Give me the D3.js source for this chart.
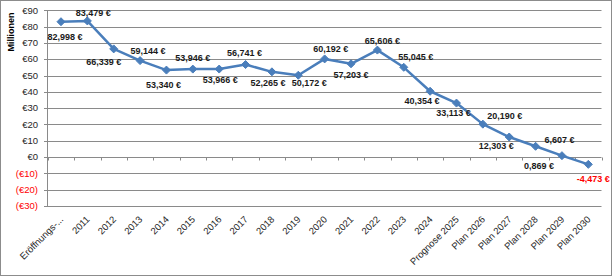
<!DOCTYPE html>
<html><head><meta charset="utf-8">
<script src="https://cdn.jsdelivr.net/npm/d3@7"></script>
<style>body{margin:0;background:#fff}svg{display:block}text{font-family:"Liberation Sans",Arial,sans-serif}</style>
</head><body>
<svg id="c" width="613" height="277"></svg>
<script>
const categories = ["Eröffnungs-...","2011","2012","2013","2014","2015","2016","2017","2018","2019","2020","2021","2022","2023","2024","Prognose 2025","Plan 2026","Plan 2027","Plan 2028","Plan 2029","Plan 2030"];
const values = [82.998,83.479,66.339,59.144,53.340,53.946,53.966,56.741,52.265,50.172,60.192,57.203,65.606,55.045,40.354,33.113,20.190,12.303,6.607,0.869,-4.473];
const yTicks = [-30,-20,-10,0,10,20,30,40,50,60,70,80,90];
const yTitle = "Millionen";
// label placement offsets relative to each point (layout, not data)
const labelOffsets = [[4,15],[6,-8],[-10,13],[8,-10],[-3,15],[0,-11],[1,11],[-1,-12],[-4,11],[11,7],[6,-10],[0,11],[5,-9],[12,-11],[-8,9],[-3,10],[22,-8],[-13,9],[24,-7],[-23,10],[5,14]];

const svg = d3.select("#c");
const fmtNum = v => {
  const s = Math.abs(v).toFixed(3).replace(".", ",");
  return (v < 0 ? "-" : "") + s + " €";
};
const fmtTick = v => v < 0 ? "(€" + Math.abs(v) + ")" : "€" + v;

const x = d3.scaleBand().domain(categories).range([47.8, 601.5]);
const y = d3.scaleLinear().domain([-30, 90]).range([206, 10.3]);

// outer border
svg.append("rect").attr("x",0.5).attr("y",0.5).attr("width",611).attr("height",275)
  .attr("fill","#fff").attr("stroke","#8c8c8c").attr("stroke-width",1);

// gridlines
svg.append("g").selectAll("line").data(yTicks).join("line")
  .attr("x1", 44).attr("x2", 601.5)
  .attr("y1", d => Math.round(y(d))+0.5).attr("y2", d => Math.round(y(d))+0.5)
  .attr("stroke","#8a8a8a").attr("stroke-width",1);

// y axis line
svg.append("line").attr("x1",47.5).attr("x2",47.5).attr("y1",Math.round(y(90))+0.5).attr("y2",Math.round(y(-30))+0.5)
  .attr("stroke","#8a8a8a");

// category axis ticks at zero
const zy = Math.round(y(0))+0.5;
const bounds = categories.map(c => x(c)).concat([x.range()[1]]);
svg.append("g").selectAll("line").data(bounds).join("line")
  .attr("x1", d => Math.round(d)+0.5).attr("x2", d => Math.round(d)+0.5)
  .attr("y1", zy).attr("y2", zy+3).attr("stroke","#8a8a8a");

// y tick labels
svg.append("g").selectAll("text").data(yTicks).join("text")
  .attr("x", 38).attr("y", d => y(d)+3.2).attr("text-anchor","end")
  .attr("font-size","9.5px").attr("fill", d => d < 0 ? "#ff0000" : "#262626")
  .text(fmtTick);

// y title
svg.append("text").attr("transform","translate(14,32) rotate(-90)")
  .attr("text-anchor","middle").attr("font-size","9px").attr("font-weight","bold").attr("fill","#000")
  .text(yTitle);

// x labels
svg.append("g").selectAll("text").data(categories).join("text")
  .attr("transform", d => `translate(${x(d)+x.bandwidth()/2+3},${220}) rotate(-45)`)
  .attr("text-anchor","end").attr("font-size","9.5px").attr("fill","#262626")
  .text(d => d);

// line
const cx = d => x(d) + x.bandwidth()/2;
svg.append("path").datum(values)
  .attr("d", d3.line().x((d,i) => cx(categories[i])).y(d => y(d)))
  .attr("fill","none").attr("stroke","#4a7ebb").attr("stroke-width",2.5).attr("stroke-linejoin","round");

// markers
svg.append("g").selectAll("path").data(values).join("path")
  .attr("transform",(d,i) => `translate(${cx(categories[i])},${y(d)})`)
  .attr("d","M0,-4L4,0L0,4L-4,0Z").attr("fill","#4a7ebb").attr("stroke","#4a7ebb");

// data labels
svg.append("g").selectAll("text").data(values).join("text")
  .attr("x",(d,i) => cx(categories[i]) + labelOffsets[i][0])
  .attr("y",(d,i) => y(d) + labelOffsets[i][1] + 3.3)
  .attr("text-anchor","middle").attr("font-size","9px").attr("font-weight","bold")
  .attr("fill", d => d < 0 ? "#ff0000" : "#1a1a1a")
  .text(fmtNum);
</script>
</body></html>
